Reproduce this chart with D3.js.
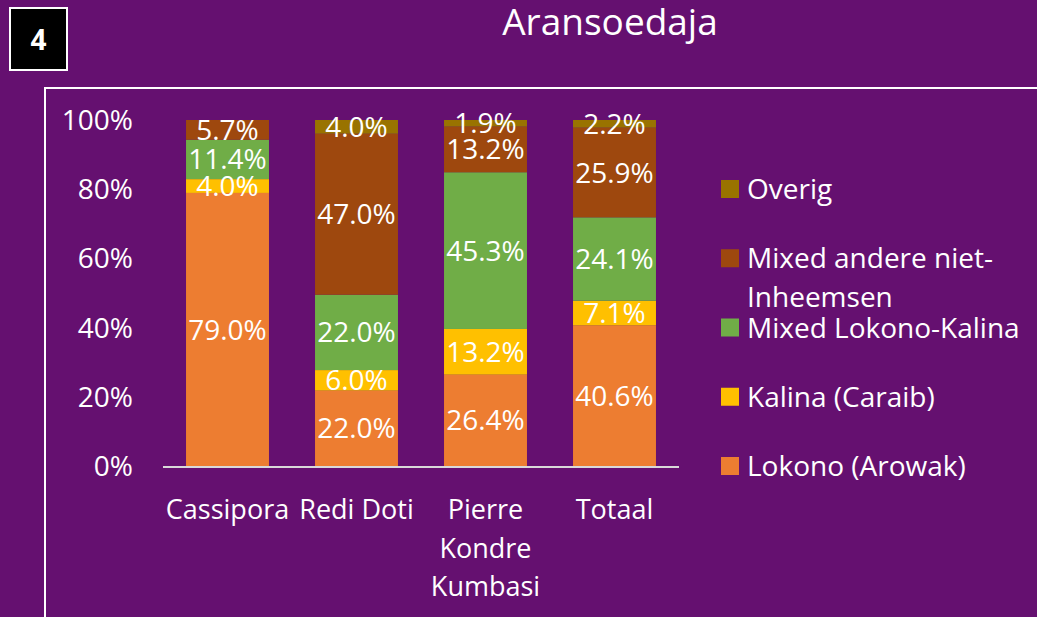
<!DOCTYPE html>
<html>
<head>
<meta charset="utf-8">
<script src="https://cdn.jsdelivr.net/npm/d3@7"></script>
<style>
  body { margin: 0; background: #651070; }
  svg { display: block; }
  text { font-family: "Open Sans", sans-serif; fill: #fff; }
</style>
</head>
<body>
<div id="chart"></div>
<script>
// data
let places = ["Cassipora", "Redi Doti", "Pierre Kondre Kumbasi", "Totaal"];
let groups = ["Lokono (Arowak)", "Kalina (Caraib)", "Mixed Lokono-Kalina", "Mixed andere niet-Inheemsen", "Overig"];
let lokono = [79.0, 22.0, 26.4, 40.6];
let kalina = [4.0, 6.0, 13.2, 7.1];
let mixedLK = [11.4, 22.0, 45.3, 24.1];
let mixedAndere = [5.7, 47.0, 13.2, 25.9];
let overig = [0, 4.0, 1.9, 2.2];
let yTicks = [0, 0.2, 0.4, 0.6, 0.8, 1];
let colors = ["#ED7D31", "#FFC000", "#70AD47", "#9E480E", "#997300"];

let series = [lokono, kalina, mixedLK, mixedAndere, overig];
let rows = places.map(function(p, i) {
  let r = {place: p};
  groups.forEach(function(g, j) { r[g] = series[j][i] });
  return r;
});

let W = 1037, H = 617;
let svg = d3.select("#chart").append("svg").attr("width", W).attr("height", H);

// number box
svg.append("rect").attr("x", 10).attr("y", 8).attr("width", 57).attr("height", 62)
   .attr("fill", "#000").attr("stroke", "#fff").attr("stroke-width", 2);
svg.append("text").attr("x", 38.5).attr("y", 50).attr("text-anchor", "middle")
   .attr("font-size", 28).attr("font-weight", "bold").text("4");

// title
svg.append("text").attr("x", 610).attr("y", 35).attr("text-anchor", "middle")
   .attr("font-size", 37).text("Aransoedaja");

// chart frame
svg.append("rect").attr("x", 45).attr("y", 88).attr("width", 1100).attr("height", 700)
   .attr("fill", "none").attr("stroke", "#fff").attr("stroke-width", 2);

let x = d3.scaleBand().domain(places).range([163, 679]).paddingInner(0.357).paddingOuter(0.1785);
let y = d3.scaleLinear().domain([0, 1]).range([466, 120]);

let stack = d3.stack().keys(groups).offset(d3.stackOffsetExpand);
let stacked = stack(rows);

let layer = svg.selectAll("g.layer").data(stacked).enter().append("g")
   .attr("class", "layer").attr("fill", function(d, i) { return colors[i] });

layer.selectAll("rect").data(function(d) { return d }).enter().append("rect")
   .attr("x", function(d) { return x(d.data.place) })
   .attr("width", x.bandwidth())
   .attr("y", function(d) { return y(d[1]) })
   .attr("height", function(d) { return y(d[0]) - y(d[1]) });

// value labels
stacked.forEach(function(s) {
  s.forEach(function(d) {
    let v = d.data[s.key];
    if (!v) return;
    svg.append("text")
       .attr("x", x(d.data.place) + x.bandwidth() / 2)
       .attr("y", (y(d[0]) + y(d[1])) / 2)
       .attr("dy", "0.36em")
       .attr("text-anchor", "middle")
       .attr("font-size", 28)
       .text(v.toFixed(1) + "%");
  });
});

// y axis labels
svg.selectAll("text.ytick").data(yTicks).enter().append("text")
   .attr("class", "ytick")
   .attr("x", 133).attr("y", function(d) { return y(d) })
   .attr("dy", "0.36em").attr("text-anchor", "end").attr("font-size", 28)
   .text(function(d) { return Math.round(d * 100) + "%" });

// x axis line
svg.append("line").attr("x1", 163).attr("x2", 679).attr("y1", 467).attr("y2", 467)
   .attr("stroke", "#d9d9d9").attr("stroke-width", 2);

// category labels, wrapped
let catLines = {"Cassipora": ["Cassipora"], "Redi Doti": ["Redi Doti"],
                "Pierre Kondre Kumbasi": ["Pierre", "Kondre", "Kumbasi"], "Totaal": ["Totaal"]};
places.forEach(function(p) {
  let t = svg.append("text").attr("x", x(p) + x.bandwidth() / 2).attr("y", 519)
     .attr("text-anchor", "middle").attr("font-size", 27);
  catLines[p].forEach(function(l, i) {
    t.append("tspan").attr("x", x(p) + x.bandwidth() / 2).attr("dy", i ? 38.5 : 0).text(l);
  });
});

// legend, top item first
let legendOrder = groups.slice().reverse();
let legendColors = colors.slice().reverse();
let ly = d3.scalePoint().domain(legendOrder).range([189, 466]);
legendOrder.forEach(function(g, i) {
  let cy = ly(g);
  svg.append("rect").attr("x", 721).attr("y", cy - 9).attr("width", 18).attr("height", 18)
     .attr("fill", legendColors[i]);
  let t = svg.append("text").attr("x", 747).attr("y", cy).attr("dy", "0.36em").attr("font-size", 28);
  if (g == "Mixed andere niet-Inheemsen") {
    t.append("tspan").attr("x", 747).text("Mixed andere niet-");
    t.append("tspan").attr("x", 747).attr("dy", 39).text("Inheemsen");
  } else {
    t.text(g);
  }
});
</script>
</body>
</html>
